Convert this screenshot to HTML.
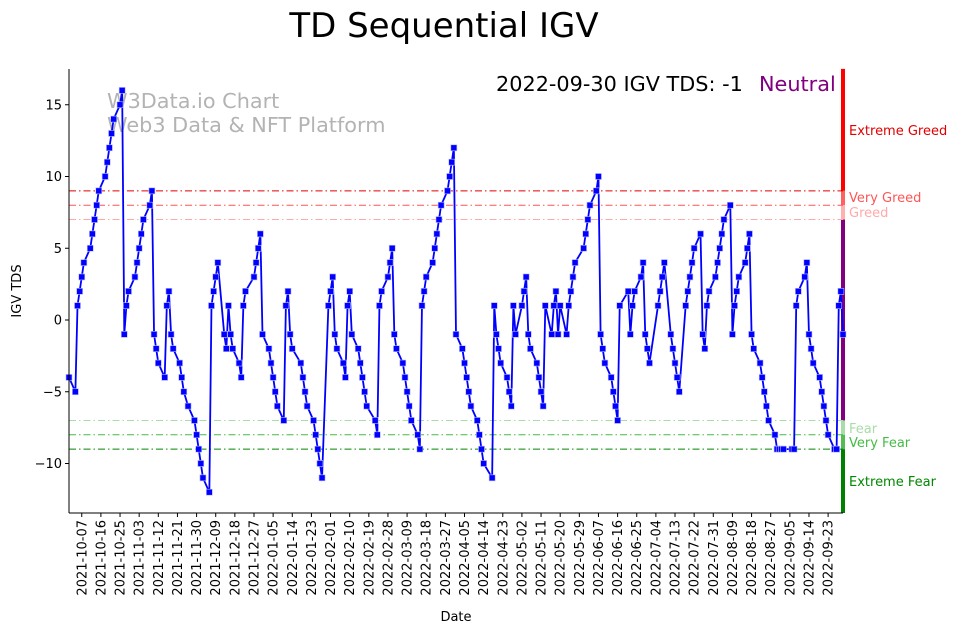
<!DOCTYPE html>
<html><head><meta charset="utf-8"><style>
html,body{margin:0;padding:0;background:#fff;}
svg{display:block;font-family:"DejaVu Sans","Liberation Sans",sans-serif;}
</style></head><body>
<svg id="chart" width="962" height="633" viewBox="0 0 962 633" xmlns="http://www.w3.org/2000/svg">
<rect width="962" height="633" fill="#fff"/>
<text x="444" y="37" font-size="34" text-anchor="middle" fill="#000">TD Sequential IGV</text>
<text x="107" y="108" font-size="20.8" fill="#b3b3b3">W3Data.io Chart</text>
<text x="107" y="132" font-size="20.8" fill="#b3b3b3">Web3 Data &amp; NFT Platform</text>
<text x="496" y="91" font-size="20.8" fill="#000">2022-09-30 IGV TDS: -1</text>
<text x="759" y="91" font-size="20.8" fill="#800080">Neutral</text>
<g id="zones"></g>
<g id="thresholds"></g>
<g id="series"></g>
<g id="axes"></g>
<text x="21" y="291" font-size="13" text-anchor="middle" transform="rotate(-90 21 291)">IGV TDS</text>
<text x="456" y="621" font-size="13" text-anchor="middle">Date</text>
</svg>
<script>
const tdsValues = [
-4,
-5,1,2,3,4, 5,6,7,8,9, 10,11,12,13,14, 15,16,-1,1,2,
3,4,5,6,7, 8,9,-1,-2,-3, -4,1,2,-1,-2, -3,-4,-5,-6, -7,-8,-9,-10,-11,
-12,1,2,3,4, -1,-2,1,-1,-2, -3,-4,1,2, 3,4,5,6,-1,
-2,-3,-4,-5,-6, -7,1,2,-1,-2, -3,-4,-5,-6, -7,-8,-9,-10,-11,
1,2,3,-1,-2, -3,-4,1,2,-1, -2,-3,-4,-5,-6, -7,-8,1,2,
3,4,5,-1,-2, -3,-4,-5,-6,-7, -8,-9,1,2,3, 4,5,6,7,8, 9,10,11,12,-1,
-2,-3,-4,-5,-6, -7,-8,-9,-10, -11,1,-1,-2,-3, -4,-5,-6,1,-1,
1,2,3,-1,-2, -3,-4,-5,-6,1, -1,1,2,-1,1, -1,1,2,3,4, 5,6,7,8,
9,10,-1,-2,-3, -4,-5,-6,-7,1, 2,-1,1,2, 3,4,-1,-2,-3,
1,2,3,4, -1,-2,-3,-4,-5, 1,2,3,4,5, 6,-1,-2,1,2,
3,4,5,6,7, 8,-1,1,2,3, 4,5,6,-1,-2, -3,-4,-5,-6,-7,
-8,-9,-9,-9,-9, -9,-9,1,2, 3,4,-1,-2,-3, -4,-5,-6,-7,-8, -9,-9,1,2,-1
];
const holidays = ["2021-11-25","2021-12-24","2022-01-17","2022-02-21","2022-04-15","2022-05-30","2022-06-20","2022-07-04","2022-09-05"];
const startDate = "2021-10-01";
const endDate = "2022-09-30";
const yTicks = [15,10,5,0,-5,-10];
const thresholdValues = [9,8,7,-7,-8,-9];
const thresholdColors = ["#e00000","#ff5555","#ffaaaa","#a8dca8","#44bb44","#008800"];
const zoneNames = ["Extreme Greed","Very Greed","Greed","Fear","Very Fear","Extreme Fear"];
const zoneLabelY = [135,202,217,433,447,486];

const NS="http://www.w3.org/2000/svg";
const L=69,R=843,T=69,B=513;
const DAY=86400000;
const t0=Date.parse(startDate+"T00:00:00Z"), t1=Date.parse(endDate+"T00:00:00Z");
function xDate(t){return L+(t-t0)/(t1-t0)*(R-L);}
function yVal(v){return 320-v*14.35;}
function mk(tag,attrs,parent){const e=document.createElementNS(NS,tag);for(const k in attrs)e.setAttribute(k,attrs[k]);parent.appendChild(e);return e;}

const dates=[];
for(let t=t0;t<=t1;t+=DAY){const d=new Date(t);const wd=d.getUTCDay();const s=d.toISOString().slice(0,10);
 if(wd===0||wd===6||holidays.includes(s))continue;dates.push(t);}

const zones=document.getElementById('zones');
const zoneBounds=[[17.5,9],[9,8],[8,7],[7,-7],[-7,-8],[-8,-9],[-9,-13.45]];
const zoneCols=["#ff0000","#ff6060","#ffb0b0","#800080","#a8dca8","#55bb55","#008000"];
zoneBounds.forEach((b,i)=>{
 const r=mk('rect',{x:841,y:yVal(b[0]),width:4,height:yVal(b[1])-yVal(b[0]),fill:zoneCols[i]},zones);
 
 
});
zoneNames.forEach((n,i)=>{
 const tx=mk('text',{x:849,y:zoneLabelY[i],'font-size':13,fill:thresholdColors[i]},zones);
 tx.textContent=n;
 
 
});

const th=document.getElementById('thresholds');
thresholdValues.forEach((v,i)=>{
 const ln=mk('line',{x1:L,x2:R,y1:yVal(v),y2:yVal(v),stroke:thresholdColors[i],'stroke-width':1,'stroke-dasharray':'7,3,1.5,3'},th);
 
 
});

const sg=document.getElementById('series');
const n=Math.min(dates.length,tdsValues.length);
let d="";
for(let i=0;i<n;i++){d+=(i?"L":"M")+xDate(dates[i]).toFixed(2)+" "+yVal(tdsValues[i]).toFixed(2);}
const path=mk('path',{d:d,fill:'none',stroke:'#0000ff','stroke-width':1.8},sg);


for(let i=0;i<n;i++){
 const m=mk('rect',{x:xDate(dates[i])-3,y:yVal(tdsValues[i])-3,width:6,height:6,fill:'#0000ff',stroke:'#b8b8ff','stroke-width':0.6},sg);
 
 
}

const ax=document.getElementById('axes');
mk('line',{x1:L,x2:L,y1:T,y2:B,stroke:'#000','stroke-width':1},ax);
mk('line',{x1:L,x2:R,y1:B,y2:B,stroke:'#000','stroke-width':1},ax);
yTicks.forEach(v=>{
 const y=yVal(v);
 mk('line',{x1:L-4,x2:L,y1:y,y2:y,stroke:'#000'},ax);
 const tx=mk('text',{x:L-7,y:y+4.5,'font-size':13,'text-anchor':'end'},ax);
 tx.textContent=v<0?"\u2212"+(-v):String(v);
 
 
});
for(let t=Date.parse("2021-10-07T00:00:00Z");t<=t1;t+=9*DAY){
 const x=xDate(t);
 mk('line',{x1:x,x2:x,y1:B,y2:B+4,stroke:'#000'},ax);
 const tx=mk('text',{x:0,y:0,'font-size':13,'text-anchor':'end',transform:`translate(${x+4.5},${B+7}) rotate(-90)`},ax);
 tx.textContent=new Date(t).toISOString().slice(0,10);
 
 
}
</script>
</body></html>
